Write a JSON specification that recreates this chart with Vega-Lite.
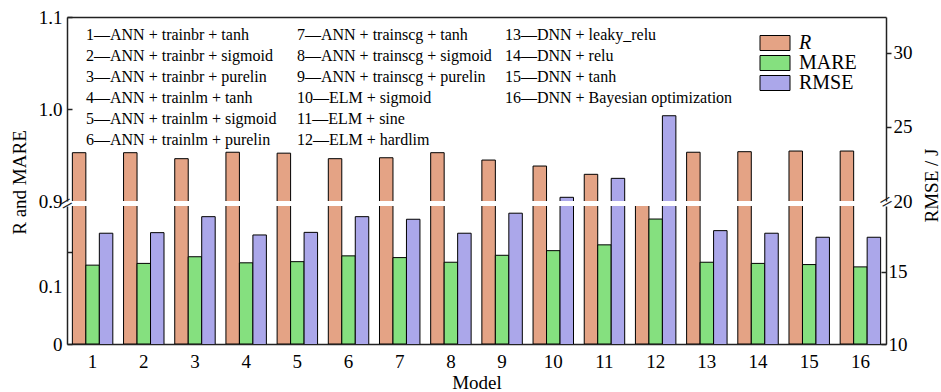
{
  "$schema": "https://vega.github.io/schema/vega-lite/v6.json",
  "padding": {"left": 10, "top": 8, "right": 2, "bottom": 0},
  "background": "white",
  "bounds": "flush",
  "datasets": {
    "bars": [
      {"model": 1, "metric": "R", "value": 0.9525}, {"model": 1, "metric": "MARE", "value": 0.136}, {"model": 1, "metric": "RMSE", "value": 17.69},
      {"model": 2, "metric": "R", "value": 0.9525}, {"model": 2, "metric": "MARE", "value": 0.139}, {"model": 2, "metric": "RMSE", "value": 17.73},
      {"model": 3, "metric": "R", "value": 0.946}, {"model": 3, "metric": "MARE", "value": 0.1505}, {"model": 3, "metric": "RMSE", "value": 18.84},
      {"model": 4, "metric": "R", "value": 0.953}, {"model": 4, "metric": "MARE", "value": 0.14}, {"model": 4, "metric": "RMSE", "value": 17.57},
      {"model": 5, "metric": "R", "value": 0.952}, {"model": 5, "metric": "MARE", "value": 0.142}, {"model": 5, "metric": "RMSE", "value": 17.75},
      {"model": 6, "metric": "R", "value": 0.946}, {"model": 6, "metric": "MARE", "value": 0.152}, {"model": 6, "metric": "RMSE", "value": 18.84},
      {"model": 7, "metric": "R", "value": 0.947}, {"model": 7, "metric": "MARE", "value": 0.149}, {"model": 7, "metric": "RMSE", "value": 18.66},
      {"model": 8, "metric": "R", "value": 0.9525}, {"model": 8, "metric": "MARE", "value": 0.141}, {"model": 8, "metric": "RMSE", "value": 17.69},
      {"model": 9, "metric": "R", "value": 0.9445}, {"model": 9, "metric": "MARE", "value": 0.153}, {"model": 9, "metric": "RMSE", "value": 19.08},
      {"model": 10, "metric": "R", "value": 0.938}, {"model": 10, "metric": "MARE", "value": 0.161}, {"model": 10, "metric": "RMSE", "value": 20.25},
      {"model": 11, "metric": "R", "value": 0.929}, {"model": 11, "metric": "MARE", "value": 0.171}, {"model": 11, "metric": "RMSE", "value": 21.53},
      {"model": 12, "metric": "R", "value": 0.89}, {"model": 12, "metric": "MARE", "value": 0.2155}, {"model": 12, "metric": "RMSE", "value": 25.76},
      {"model": 13, "metric": "R", "value": 0.953}, {"model": 13, "metric": "MARE", "value": 0.141}, {"model": 13, "metric": "RMSE", "value": 17.87},
      {"model": 14, "metric": "R", "value": 0.9536}, {"model": 14, "metric": "MARE", "value": 0.139}, {"model": 14, "metric": "RMSE", "value": 17.69},
      {"model": 15, "metric": "R", "value": 0.9543}, {"model": 15, "metric": "MARE", "value": 0.137}, {"model": 15, "metric": "RMSE", "value": 17.41},
      {"model": 16, "metric": "R", "value": 0.9543}, {"model": 16, "metric": "MARE", "value": 0.133}, {"model": 16, "metric": "RMSE", "value": 17.41}
    ],
    "notes": [
      {"col": 1, "anchor": 1, "lines": ["1—ANN + trainbr + tanh", "2—ANN + trainbr + sigmoid", "3—ANN + trainbr + purelin", "4—ANN + trainlm + tanh", "5—ANN + trainlm + sigmoid", "6—ANN + trainlm + purelin"]},
      {"col": 2, "anchor": 5, "lines": ["7—ANN + trainscg + tanh", "8—ANN + trainscg + sigmoid", "9—ANN + trainscg + purelin", "10—ELM + sigmoid", "11—ELM + sine", "12—ELM + hardlim"]},
      {"col": 3, "anchor": 9, "lines": ["13—DNN + leaky_relu", "14—DNN + relu", "15—DNN + tanh", "16—DNN + Bayesian optimization"]}
    ],
    "breaks": [{"model": 1, "side": "left"}, {"model": 16, "side": "right"}]
  },
  "config": {
    "font": "Liberation Serif, Times New Roman, serif",
    "view": {"stroke": null},
    "text": {"font": "Liberation Serif, Times New Roman, serif"},
    "axis": {
      "labelFont": "Liberation Serif, Times New Roman, serif", "titleFont": "Liberation Serif, Times New Roman, serif",
      "labelFontSize": 19, "titleFontSize": 19, "titleFontWeight": "normal",
      "labelColor": "black", "titleColor": "black",
      "domainColor": "#222", "tickColor": "#222", "domainWidth": 1.5, "tickWidth": 1.5,
      "grid": false, "zindex": 1
    },
    "legend": {"labelFont": "Liberation Serif, Times New Roman, serif"}
  },
  "spacing": 5,
  "resolve": {"scale": {"color": "independent"}},
  "vconcat": [
    {
      "width": 819, "height": 184,
      "layer": [
        {
          "data": {"name": "bars"},
          "transform": [{"filter": "datum.metric !== 'RMSE'"}],
          "mark": {"type": "bar", "clip": true, "stroke": "black", "strokeWidth": 1},
          "encoding": {
            "x": {"field": "model", "type": "ordinal", "scale": {"paddingInner": 0.21, "paddingOuter": 0.105},
                  "axis": {"orient": "top", "labels": false, "ticks": false, "title": null}},
            "xOffset": {"field": "metric", "type": "nominal", "scale": {"domain": ["R", "MARE", "RMSE"], "paddingInner": 0, "paddingOuter": 0}},
            "y": {"field": "value", "type": "quantitative", "scale": {"domain": [0.9, 1.1], "zero": false},
                  "axis": {"values": [0.9, 1.0, 1.1], "format": ".1f", "tickSize": -5, "labelPadding": 10,
                           "tickOpacity": {"condition": {"test": "datum.value < 0.95", "value": 0}, "value": 1},
                           "title": "R and MARE", "titleAngle": 270, "titleX": -48, "titleY": 165, "titleAlign": "center", "titleBaseline": "middle"}},
            "color": {"field": "metric", "type": "nominal",
                      "scale": {"domain": ["R", "MARE", "RMSE"], "range": ["#E4A385", "#85E07F", "#ABA7EA"]},
                      "legend": {"title": null, "orient": "none", "legendX": 698, "legendY": 16,
                                 "symbolType": "M-2,-1H2V1H-2Z", "symbolSize": 225,
                                 "symbolStrokeColor": "black", "symbolStrokeWidth": 1, "symbolOpacity": 1,
                                 "labelFontSize": 20, "labelColor": "black",
                                 "rowPadding": -2, "labelOffset": 14, "labelLimit": 0,
                                 "encode": {"labels": {"update": {"fontStyle": {"signal": "datum.value === 'R' ? 'italic' : 'normal'"}}}}}}
          }
        },
        {
          "data": {"name": "bars"},
          "transform": [{"filter": "datum.metric === 'RMSE'"}],
          "mark": {"type": "bar", "clip": true, "stroke": "black", "strokeWidth": 1, "fill": "#ABA7EA"},
          "encoding": {
            "x": {"field": "model", "type": "ordinal"},
            "xOffset": {"field": "metric", "type": "nominal"},
            "y": {"field": "value", "type": "quantitative", "scale": {"domain": [20, 32.43], "zero": false},
                  "axis": {"orient": "right", "values": [20, 25, 30], "tickSize": 5, "labelPadding": 2,
                           "tickOpacity": {"condition": {"test": "datum.value < 22", "value": 0}, "value": 1},
                           "title": "RMSE / J", "titleAngle": 270, "titleX": 45, "titleY": 168, "titleAlign": "center", "titleBaseline": "middle"}}
          }
        },
        {
          "data": {"name": "notes"},
          "transform": [{"filter": "datum.col === 1"}],
          "mark": {"type": "text", "align": "left", "baseline": "alphabetic", "dx": -6.6, "dy": 22.5, "fontSize": 16, "lineHeight": 21, "color": "black"},
          "encoding": {
            "x": {"field": "anchor", "type": "ordinal"},
            "y": {"datum": 1.1, "type": "quantitative", "scale": {"domain": [0.9, 1.1]}, "axis": null},
            "text": {"field": "lines"}
          }
        },
        {
          "data": {"name": "notes"},
          "transform": [{"filter": "datum.col === 2"}],
          "mark": {"type": "text", "align": "left", "baseline": "alphabetic", "dx": -0.4, "dy": 22.5, "fontSize": 16, "lineHeight": 21, "color": "black"},
          "encoding": {
            "x": {"field": "anchor", "type": "ordinal"},
            "y": {"datum": 1.1, "type": "quantitative", "scale": {"domain": [0.9, 1.1]}, "axis": null},
            "text": {"field": "lines"}
          }
        },
        {
          "data": {"name": "notes"},
          "transform": [{"filter": "datum.col === 3"}],
          "mark": {"type": "text", "align": "left", "baseline": "alphabetic", "dx": 2.8, "dy": 22.5, "fontSize": 16, "lineHeight": 21, "color": "black"},
          "encoding": {
            "x": {"field": "anchor", "type": "ordinal"},
            "y": {"datum": 1.1, "type": "quantitative", "scale": {"domain": [0.9, 1.1]}, "axis": null},
            "text": {"field": "lines"}
          }
        },
        {
          "data": {"name": "breaks"},
          "transform": [{"filter": "datum.side === 'left'"}],
          "mark": {"type": "text", "text": "=", "align": "center", "baseline": "middle", "dx": -24.1, "dy": -10.5, "fontSize": 22, "angle": -30, "color": "#222"},
          "encoding": {
            "x": {"field": "model", "type": "ordinal"},
            "y": {"datum": 0.9, "type": "quantitative", "scale": {"domain": [0.9, 1.1]}, "axis": null}
          }
        },
        {
          "data": {"name": "breaks"},
          "transform": [{"filter": "datum.side === 'right'"}],
          "mark": {"type": "text", "text": "=", "align": "center", "baseline": "middle", "dx": 21.7, "dy": 13.7, "fontSize": 22, "angle": -30, "color": "#222"},
          "encoding": {
            "x": {"field": "model", "type": "ordinal"},
            "y": {"datum": 0.9, "type": "quantitative", "scale": {"domain": [0.9, 1.1]}, "axis": null}
          }
        }
      ],
      "resolve": {"scale": {"y": "independent"}}
    },
    {
      "width": 819, "height": 138,
      "layer": [
        {
          "data": {"name": "bars"},
          "transform": [{"filter": "datum.metric !== 'RMSE'"}],
          "mark": {"type": "bar", "clip": true, "stroke": "black", "strokeWidth": 1},
          "encoding": {
            "x": {"field": "model", "type": "ordinal", "scale": {"paddingInner": 0.21, "paddingOuter": 0.105},
                  "axis": {"orient": "bottom", "labelAngle": 0, "ticks": false, "labelPadding": 8, "title": "Model", "titlePadding": 2}},
            "xOffset": {"field": "metric", "type": "nominal", "scale": {"domain": ["R", "MARE", "RMSE"], "paddingInner": 0, "paddingOuter": 0}},
            "y": {"field": "value", "type": "quantitative", "scale": {"domain": [0, 0.238]},
                  "axis": {"values": [0, 0.1, 0.159], "tickSize": -5, "labelPadding": 10, "title": null,
                           "labelExpr": "datum.value === 0 ? '0' : (datum.value === 0.1 ? '0.1' : '')",
                           "tickOpacity": {"condition": {"test": "datum.value === 0.1", "value": 0}, "value": 1}}},
            "color": {"field": "metric", "type": "nominal",
                      "scale": {"domain": ["R", "MARE", "RMSE"], "range": ["#E4A385", "#85E07F", "#ABA7EA"]},
                      "legend": null}
          }
        },
        {
          "data": {"name": "bars"},
          "transform": [{"filter": "datum.metric === 'RMSE'"}],
          "mark": {"type": "bar", "clip": true, "stroke": "black", "strokeWidth": 1, "fill": "#ABA7EA"},
          "encoding": {
            "x": {"field": "model", "type": "ordinal"},
            "xOffset": {"field": "metric", "type": "nominal"},
            "y": {"field": "value", "type": "quantitative", "scale": {"domain": [10, 19.58], "zero": false},
                  "axis": {"orient": "right", "values": [10, 15], "tickSize": -5, "labelPadding": 7, "title": null}}
          }
        }
      ],
      "resolve": {"scale": {"y": "independent"}}
    }
  ]
}
